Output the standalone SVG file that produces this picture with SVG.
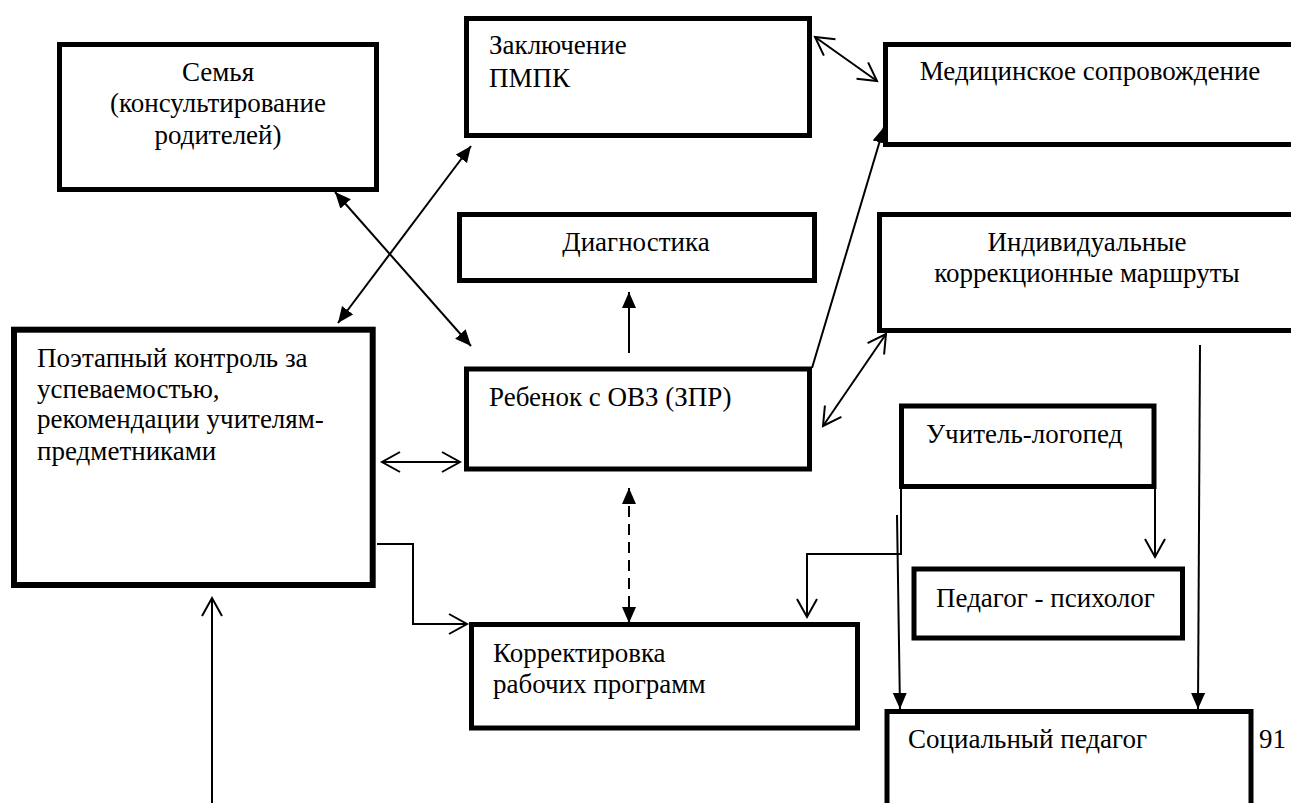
<svg xmlns="http://www.w3.org/2000/svg" width="1291" height="803" viewBox="0 0 1291 803">
<defs>
<marker id="fa" markerUnits="userSpaceOnUse" markerWidth="18" markerHeight="16" refX="16" refY="7" orient="auto-start-reverse" viewBox="0 0 18 16">
<path d="M0,0 L16,7 L0,14 z" fill="#000"/>
</marker>
<marker id="oa" markerUnits="userSpaceOnUse" markerWidth="22" markerHeight="24" refX="19" refY="11" orient="auto-start-reverse" viewBox="0 0 22 24">
<path d="M1,1 L19,11 L1,21" fill="none" stroke="#000" stroke-width="2"/>
</marker>
</defs>
<rect width="1291" height="803" fill="#fff"/>
<g id="connectors" fill="none" stroke="#000" stroke-width="2">
<line x1="335" y1="192" x2="471" y2="346" marker-start="url(#fa)" marker-end="url(#fa)"/>
<line x1="338" y1="323" x2="471" y2="146" marker-start="url(#fa)" marker-end="url(#fa)"/>
<line x1="629" y1="353" x2="629" y2="292" marker-end="url(#fa)"/>
<line x1="812" y1="368" x2="884" y2="127" marker-end="url(#fa)"/>
<line x1="815" y1="37" x2="877" y2="81" marker-start="url(#oa)" marker-end="url(#oa)"/>
<line x1="823" y1="426" x2="886" y2="334" marker-start="url(#oa)" marker-end="url(#oa)"/>
<line x1="382" y1="462" x2="460" y2="462" marker-start="url(#oa)" marker-end="url(#oa)"/>
<polyline points="377,544 413,544 413,624 467,624" marker-end="url(#oa)"/>
<line x1="212" y1="803" x2="212" y2="598" marker-end="url(#oa)"/>
<line x1="629" y1="488" x2="629" y2="623" stroke-dasharray="11,7" marker-start="url(#fa)" marker-end="url(#fa)"/>
<polyline points="901,489 901,554 807,554 807,617" marker-end="url(#oa)"/>
<line x1="897" y1="515" x2="900" y2="709" marker-end="url(#fa)"/>
<line x1="1155" y1="489" x2="1155" y2="557" marker-end="url(#oa)"/>
<line x1="1200" y1="345" x2="1198" y2="709" marker-end="url(#fa)"/>
</g>
<g id="semya">
<rect fill="#fff" stroke="#000" stroke-width="5" x="59.5" y="44.5" width="317" height="145"/>
<text font-family="Times New Roman" font-size="27" text-anchor="middle" x="218" y="81">Семья</text>
<text font-family="Times New Roman" font-size="27" text-anchor="middle" x="218" y="112">(консультирование</text>
<text font-family="Times New Roman" font-size="27" text-anchor="middle" x="218" y="144">родителей)</text>
</g>
<g id="zakluchenie">
<rect fill="#fff" stroke="#000" stroke-width="5" x="466.5" y="18.5" width="343" height="117"/>
<text font-family="Times New Roman" font-size="27" x="489" y="54">Заключение</text>
<text font-family="Times New Roman" font-size="27" x="489" y="87">ПМПК</text>
</g>
<g id="diagnostika">
<rect fill="#fff" stroke="#000" stroke-width="5" x="459.5" y="214.5" width="355" height="66"/>
<text font-family="Times New Roman" font-size="27" text-anchor="middle" x="636" y="251">Диагностика</text>
</g>
<g id="medicinskoe">
<rect fill="#fff" stroke="#000" stroke-width="5" x="885.5" y="44.5" width="412" height="100"/>
<text font-family="Times New Roman" font-size="27" text-anchor="middle" x="1090" y="80">Медицинское сопровождение</text>
</g>
<g id="individualnye">
<rect fill="#fff" stroke="#000" stroke-width="5" x="879.5" y="214.5" width="418" height="116"/>
<text font-family="Times New Roman" font-size="27" text-anchor="middle" x="1087" y="251">Индивидуальные</text>
<text font-family="Times New Roman" font-size="27" text-anchor="middle" x="1087" y="282">коррекционные маршруты</text>
</g>
<g id="poetapny">
<rect fill="#fff" stroke="#000" stroke-width="6" x="14" y="329.7" width="358.7" height="255.3"/>
<text font-family="Times New Roman" font-size="27" x="37" y="367">Поэтапный контроль за</text>
<text font-family="Times New Roman" font-size="27" x="37" y="398">успеваемостью,</text>
<text font-family="Times New Roman" font-size="27" x="37" y="428">рекомендации учителям-</text>
<text font-family="Times New Roman" font-size="27" x="37" y="460">предметниками</text>
</g>
<g id="rebenok">
<rect fill="#fff" stroke="#000" stroke-width="5" x="466.5" y="369" width="343" height="100"/>
<text font-family="Times New Roman" font-size="27" x="489" y="406">Ребенок с ОВЗ (ЗПР)</text>
</g>
<g id="korrektirovka">
<rect fill="#fff" stroke="#000" stroke-width="5" x="471.5" y="624.5" width="386" height="103.5"/>
<text font-family="Times New Roman" font-size="27" x="493" y="662">Корректировка</text>
<text font-family="Times New Roman" font-size="27" x="493" y="693">рабочих программ</text>
</g>
<g id="uchitel">
<rect fill="#fff" stroke="#000" stroke-width="5" x="901.5" y="406" width="252.5" height="80.5"/>
<text font-family="Times New Roman" font-size="27" x="926" y="443">Учитель-логопед</text>
</g>
<g id="psiholog">
<rect fill="#fff" stroke="#000" stroke-width="5" x="914" y="569" width="268.5" height="69"/>
<text font-family="Times New Roman" font-size="27" x="936" y="607">Педагог - психолог</text>
</g>
<g id="socialny">
<rect fill="#fff" stroke="#000" stroke-width="5" x="887" y="711.5" width="364" height="100"/>
<text font-family="Times New Roman" font-size="27" x="908" y="748">Социальный педагог</text>
</g>
<text font-family="Times New Roman" font-size="27" x="1286" y="748" text-anchor="end">91</text>
</svg>
